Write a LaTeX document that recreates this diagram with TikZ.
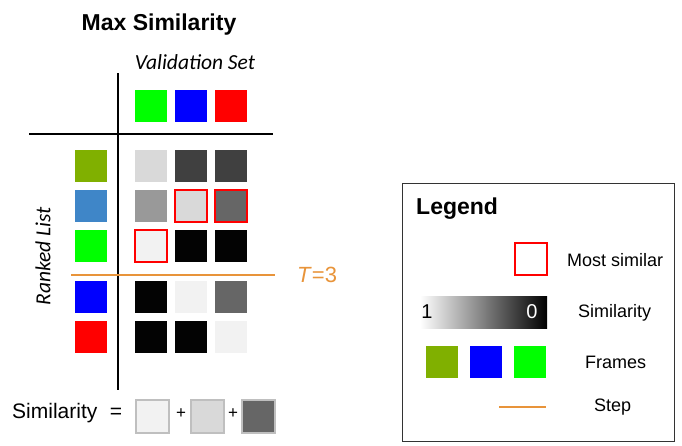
\documentclass[tikz,border=0pt]{standalone}
\usepackage{fontspec}
\setmainfont{Liberation Sans}
\newfontfamily\calfont{Carlito}
\definecolor{cOlive}{HTML}{80B000}
\definecolor{cSteel}{HTML}{3F86C8}
\definecolor{cGreen}{HTML}{00FF00}
\definecolor{cBlue}{HTML}{0000FF}
\definecolor{cRed}{HTML}{FF0000}
\definecolor{cOrange}{HTML}{E8943A}
\definecolor{gA}{HTML}{F2F2F2}
\definecolor{gB}{HTML}{D9D9D9}
\definecolor{gC}{HTML}{999999}
\definecolor{gD}{HTML}{666666}
\definecolor{gE}{HTML}{404040}
\definecolor{gF}{HTML}{030303}
\begin{document}
\begin{tikzpicture}[x=1pt,y=-1pt,
  sq/.style={minimum size=32pt,inner sep=0pt,outer sep=0pt},
  best/.style={draw=cRed,line width=2pt},
  sumsq/.style={minimum size=33pt,inner sep=0pt,draw=black!25,line width=2pt},
  axis/.style={line width=2.2pt,black},
  stepline/.style={line width=2pt,cOrange},
  lab/.style={font=\fontsize{18}{20}\selectfont,anchor=west,inner sep=0pt},
  head/.style={font=\bfseries\fontsize{23}{26}\selectfont,inner sep=0pt},
  ital/.style={font=\calfont\itshape\fontsize{21.5}{24}\selectfont,inner sep=0pt},
  plus/.style={font=\fontsize{17}{19}\selectfont,inner sep=0pt}]
\useasboundingbox (0,0) rectangle (682,445);
% titles
\node[head] (title) at (159,25) {Max Similarity};
\node[ital] (vset) at (195,62) {Validation Set};
\node[ital,rotate=90] (rlist) at (43,256) {Ranked List};
% axes
\coordinate (vtop) at (118,73);
\coordinate (vbot) at (118,390);
\coordinate (hl) at (29,134);
\coordinate (hr) at (273,134);
\draw[axis] (vtop) -- (vbot);
\draw[axis] (hl) -- (hr);
% validation set
\node[sq,fill=cGreen] (v1) at (151,106) {};
\node[sq,fill=cBlue] (v2) at (191,106) {};
\node[sq,fill=cRed] (v3) at (231,106) {};
% ranked list
\node[sq,fill=cOlive] (r1) at (91,166) {};
\node[sq,fill=cSteel] (r2) at (91,206) {};
\node[sq,fill=cGreen] (r3) at (91,246) {};
\node[sq,fill=cBlue] (r4) at (91,297) {};
\node[sq,fill=cRed] (r5) at (91,337) {};
% similarity grid
\node[sq,fill=gB] (m11) at (151,166) {};
\node[sq,fill=gE] (m12) at (191,166) {};
\node[sq,fill=gE] (m13) at (231,166) {};
\node[sq,fill=gC] (m21) at (151,206) {};
\node[sq,fill=gB,best] (m22) at (191,206) {};
\node[sq,fill=gD,best] (m23) at (231,206) {};
\node[sq,fill=gA,best] (m31) at (151,246) {};
\node[sq,fill=gF] (m32) at (191,246) {};
\node[sq,fill=gF] (m33) at (231,246) {};
\node[sq,fill=gF] (m41) at (151,297) {};
\node[sq,fill=gA] (m42) at (191,297) {};
\node[sq,fill=gD] (m43) at (231,297) {};
\node[sq,fill=gF] (m51) at (151,337) {};
\node[sq,fill=gF] (m52) at (191,337) {};
\node[sq,fill=gA] (m53) at (231,337) {};
% step
\coordinate (sl) at (71,275);
\coordinate (sr) at (275,275);
\draw[stepline] (sl) -- (sr);
\node[font=\fontsize{22}{24}\selectfont,text=cOrange,anchor=west,inner sep=0pt] (tlab) at (297,275) {\textit{T}=3};
% sum
\node[font=\fontsize{21}{24}\selectfont,anchor=west,inner sep=0pt] (simtxt) at (12,413) {Similarity};
\node[font=\fontsize{21}{24}\selectfont,inner sep=0pt] (eq) at (116,413) {=};
\node[sumsq,fill=gA] (s1) at (152.5,416) {};
\node[plus] (p1) at (181,414) {+};
\node[sumsq,fill=gB] (s2) at (207.5,416) {};
\node[plus] (p2) at (233,414) {+};
\node[sumsq,fill=gD] (s3) at (258.5,416) {};
% legend
\node[draw=black!80,line width=1pt,minimum width=272pt,minimum height=258pt,inner sep=0pt] (legbox) at (538,312) {};
\node[head,anchor=west] (legtitle) at (416,209) {Legend};
\node[sq,best] (lbest) at (530.5,259) {};
\node[lab] (lbesttxt) at (567,260) {Most similar};
\node[sq,minimum width=127pt,left color=white,right color=black] (grad) at (483.5,312) {};
\node[font=\fontsize{20}{22}\selectfont,inner sep=0pt] (g1) at (427,312) {1};
\node[font=\fontsize{20}{22}\selectfont,text=white,inner sep=0pt] (g0) at (532,312) {0};
\node[lab] (gtxt) at (578,313) {Similarity};
\node[sq,fill=cOlive] (f1) at (442,362) {};
\node[sq,fill=cBlue] (f2) at (486,362) {};
\node[sq,fill=cGreen] (f3) at (529.5,362) {};
\node[lab] (ftxt) at (585,362) {Frames};
\coordinate (ll) at (499,407);
\coordinate (lr) at (546,407);
\draw[stepline] (ll) -- (lr);
\node[lab] (steptxt) at (594,407) {Step};
\end{tikzpicture}
\end{document}
